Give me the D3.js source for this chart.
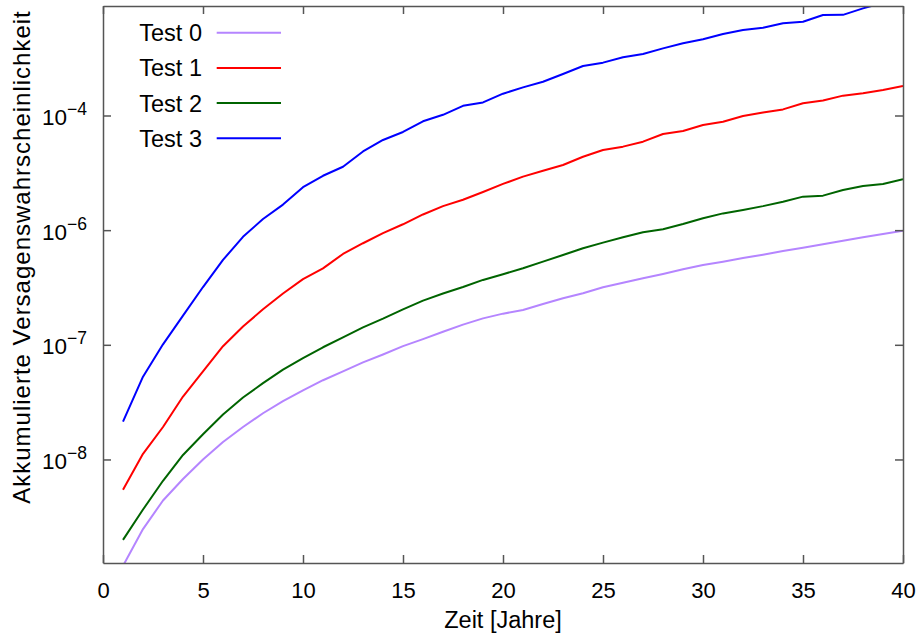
<!DOCTYPE html>
<html>
<head>
<meta charset="utf-8">
<script src="https://cdn.jsdelivr.net/npm/d3@7"></script>
<style>
  body { margin: 0; background: #fff; }
  svg { font-family: "Liberation Sans", Arial, sans-serif; }
  .axis path, .axis line { stroke: #555; stroke-width: 1.5; }
  .axis text { fill: #000; }
  .line { fill: none; stroke-width: 2; stroke-linejoin: round; }
</style>
</head>
<body>
<script>
// data (years 1..40)
var years = d3.range(1, 41);
var seriesNames = ["Test 0", "Test 1", "Test 2", "Test 3"];
var seriesColors = ["#b585ff", "#ff0000", "#006400", "#0000ff"];

var test0 = [1.18e-9, 2.47e-9, 4.39e-9, 6.76e-9, 1.0e-8, 1.42e-8, 1.92e-8, 2.53e-8, 3.23e-8, 4.01e-8,
  4.91e-8, 5.87e-8, 7.03e-8, 8.24e-8, 9.73e-8, 1.12e-7, 1.30e-7, 1.50e-7, 1.70e-7, 1.87e-7,
  2.01e-7, 2.27e-7, 2.55e-7, 2.82e-7, 3.18e-7, 3.48e-7, 3.80e-7, 4.15e-7, 4.56e-7, 4.97e-7,
  5.31e-7, 5.72e-7, 6.11e-7, 6.58e-7, 7.03e-7, 7.53e-7, 8.09e-7, 8.67e-7, 9.26e-7, 9.9e-7];
var test1 = [5.45e-9, 1.12e-8, 1.92e-8, 3.54e-8, 5.87e-8, 9.73e-8, 1.445e-7, 2.04e-7, 2.80e-7, 3.74e-7,
  4.64e-7, 6.20e-7, 7.69e-7, 9.41e-7, 1.125e-6, 1.37e-6, 1.62e-6, 1.84e-6, 2.15e-6, 2.53e-6,
  2.93e-6, 3.30e-6, 3.70e-6, 4.37e-6, 5.00e-6, 5.35e-6, 5.91e-6, 6.90e-6, 7.33e-6, 8.26e-6,
  8.83e-6, 9.90e-6, 1.06e-5, 1.13e-5, 1.28e-5, 1.35e-5, 1.49e-5, 1.56e-5, 1.67e-5, 1.81e-5];
var test2 = [1.99e-9, 3.66e-9, 6.52e-9, 1.095e-8, 1.66e-8, 2.47e-8, 3.47e-8, 4.63e-8, 6.08e-8, 7.66e-8,
  9.52e-8, 1.16e-7, 1.42e-7, 1.69e-7, 2.04e-7, 2.43e-7, 2.80e-7, 3.19e-7, 3.68e-7, 4.13e-7,
  4.65e-7, 5.31e-7, 6.07e-7, 6.95e-7, 7.78e-7, 8.67e-7, 9.58e-7, 1.02e-6, 1.13e-6, 1.27e-6,
  1.40e-6, 1.50e-6, 1.62e-6, 1.77e-6, 1.96e-6, 2.00e-6, 2.24e-6, 2.43e-6, 2.53e-6, 2.78e-6];
var test3 = [2.14e-8, 5.27e-8, 1.01e-7, 1.795e-7, 3.19e-7, 5.50e-7, 8.75e-7, 1.25e-6, 1.67e-6, 2.37e-6,
  2.98e-6, 3.57e-6, 4.86e-6, 6.12e-6, 7.18e-6, 8.90e-6, 1.014e-5, 1.215e-5, 1.30e-5, 1.55e-5,
  1.76e-5, 1.97e-5, 2.30e-5, 2.70e-5, 2.89e-5, 3.22e-5, 3.44e-5, 3.85e-5, 4.26e-5, 4.62e-5,
  5.14e-5, 5.57e-5, 5.83e-5, 6.37e-5, 6.58e-5, 7.52e-5, 7.55e-5, 8.6e-5, 9.6e-5, 1.02e-4];

var xTicks = [0, 5, 10, 15, 20, 25, 30, 35, 40];
var yTicks = [1e-8, 1e-7, 1e-6, 1e-5];
var yTickExponents = ["\u22128", "\u22127", "\u22126", "\u22124"];

var allSeries = [test0, test1, test2, test3];

// SVG area
var svgWidth = 921;
var svgHeight = 636;

var margin = {
  top: 6,
  right: 18,
  bottom: 73,
  left: 103
};

var chartWidth = svgWidth - margin.left - margin.right;
var chartHeight = svgHeight - margin.top - margin.bottom;

var svg = d3.select("body")
  .append("svg")
  .attr("width", svgWidth)
  .attr("height", svgHeight);

var chartGroup = svg.append("g")
  .attr("transform", `translate(${margin.left}, ${margin.top})`);

// scales
var xLinearScale = d3.scaleLinear()
  .range([0, chartWidth])
  .domain([0, 40]);

var yLogScale = d3.scaleLog()
  .range([chartHeight, 0])
  .domain([Math.pow(10, -8.903), Math.pow(10, -4.045)]);

// clip for the lines
svg.append("defs").append("clipPath")
  .attr("id", "clip")
  .append("rect")
  .attr("width", chartWidth)
  .attr("height", chartHeight);

var drawLine = d3.line()
  .x((d, i) => xLinearScale(years[i]))
  .y(d => yLogScale(d));

chartGroup.append("g")
  .attr("clip-path", "url(#clip)")
  .selectAll("path")
  .data(allSeries)
  .enter()
  .append("path")
  .classed("line", true)
  .attr("stroke", (d, i) => seriesColors[i])
  .attr("d", d => drawLine(d));

// axes, ticks pointing inward on all four sides
var bottomAxis = d3.axisBottom(xLinearScale)
  .tickValues(xTicks)
  .tickSizeInner(-8)
  .tickSizeOuter(0)
  .tickPadding(19);

var topAxis = d3.axisTop(xLinearScale)
  .tickValues(xTicks)
  .tickSizeInner(-8)
  .tickSizeOuter(0)
  .tickFormat("");

var leftAxis = d3.axisLeft(yLogScale)
  .tickValues(yTicks)
  .tickSizeInner(-8)
  .tickSizeOuter(0)
  .tickFormat("");

var rightAxis = d3.axisRight(yLogScale)
  .tickValues(yTicks)
  .tickSizeInner(-8)
  .tickSizeOuter(0)
  .tickFormat("");

chartGroup.append("g")
  .classed("axis", true)
  .attr("transform", "translate(0, " + chartHeight + ")")
  .call(bottomAxis)
  .call(g => g.selectAll("text").attr("font-size", 22).attr("font-family", null));

chartGroup.append("g")
  .classed("axis", true)
  .call(topAxis);

chartGroup.append("g")
  .classed("axis", true)
  .attr("transform", "translate(" + chartWidth + ", 0)")
  .call(rightAxis);

chartGroup.append("g")
  .classed("axis", true)
  .call(leftAxis)
  .call(g => g.selectAll(".tick").append("text")
    .attr("x", -16)
    .attr("y", 9)
    .attr("text-anchor", "end")
    .attr("font-size", 22.5)
    .attr("fill", "#000")
    .call(t => t.append("tspan").text("10"))
    .call(t => t.append("tspan")
      .attr("dy", -10)
      .attr("font-size", 17.5)
      .text((d, i) => yTickExponents[i])));

// axis titles
svg.append("text")
  .attr("x", margin.left + chartWidth / 2)
  .attr("y", 628)
  .attr("text-anchor", "middle")
  .attr("font-size", 23.5)
  .text("Zeit [Jahre]");

svg.append("text")
  .attr("transform", "translate(30, 257) rotate(-90)")
  .attr("text-anchor", "middle")
  .attr("font-size", 24)
  .attr("letter-spacing", 1)
  .text("Akkumulierte Versagenswahrscheinlichkeit");

// legend
var legend = chartGroup.append("g")
  .attr("transform", "translate(0, 0)");

var legendRows = legend.selectAll("g")
  .data(seriesNames)
  .enter()
  .append("g")
  .attr("transform", (d, i) => `translate(0, ${26.7 + i * 35.2})`);

legendRows.append("text")
  .attr("x", 99)
  .attr("y", 8.5)
  .attr("text-anchor", "end")
  .attr("font-size", 23.5)
  .text(d => d);

legendRows.append("line")
  .attr("x1", 113.7)
  .attr("x2", 178)
  .attr("stroke-width", 2)
  .attr("stroke", (d, i) => seriesColors[i]);
</script>
</body>
</html>
